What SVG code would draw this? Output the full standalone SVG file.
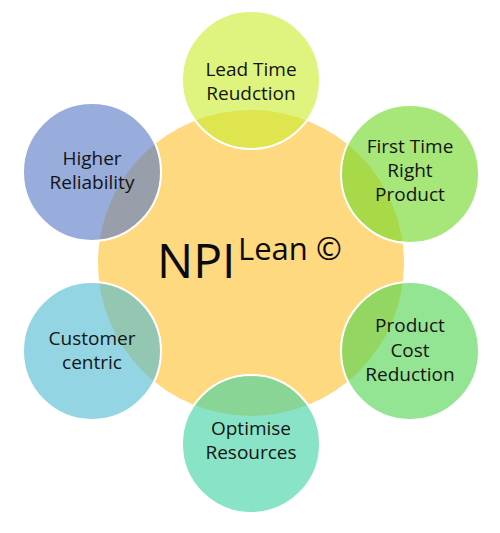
<svg xmlns="http://www.w3.org/2000/svg" width="500" height="533" viewBox="0 0 500 533">
<style>
.sat{stroke:#ffffff;stroke-width:2;fill-opacity:0.62}
.lbl{font-family:"Open Sans","Liberation Sans",sans-serif;font-size:19px;fill:#141414;text-anchor:middle}
.big{font-family:"Open Sans","Liberation Sans",sans-serif;fill:#0a0a0a}
</style>
<rect width="500" height="533" fill="#ffffff"/>
<g id="center">
<circle cx="251" cy="263" r="153" fill="#FFD97F"/>
</g>
<g id="connectors"></g>
<g id="lead-time">
<circle class="sat" cx="251" cy="80" r="69" fill="#CBEC30"/>
<text class="lbl" x="251" y="76">Lead Time</text>
<text class="lbl" x="251" y="100">Reudction</text>
</g>
<g id="first-time">
<circle class="sat" cx="410" cy="174" r="69" fill="#71D926"/>
<text class="lbl" x="410" y="153">First Time</text>
<text class="lbl" x="410" y="177">Right</text>
<text class="lbl" x="410" y="201">Product</text>
</g>
<g id="product-cost">
<circle class="sat" cx="410" cy="351" r="69" fill="#50D550"/>
<text class="lbl" x="410" y="332">Product</text>
<text class="lbl" x="410" y="357">Cost</text>
<text class="lbl" x="410" y="381">Reduction</text>
</g>
<g id="optimise">
<circle class="sat" cx="251" cy="444" r="69" fill="#40D2A4"/>
<text class="lbl" x="251" y="435">Optimise</text>
<text class="lbl" x="251" y="459">Resources</text>
</g>
<g id="customer">
<circle class="sat" cx="92" cy="351" r="69" fill="#50BCD2"/>
<text class="lbl" x="92" y="345">Customer</text>
<text class="lbl" x="92" y="369">centric</text>
</g>
<g id="reliability">
<circle class="sat" cx="92" cy="172" r="69" fill="#587BC5"/>
<text class="lbl" x="92" y="165">Higher</text>
<text class="lbl" x="92" y="189">Reliability</text>
</g>
<g id="npi-label">
<text class="big" x="157" y="278" font-size="48">NPI</text>
<text class="big" x="238" y="260" font-size="31">Lean ©</text>
</g>
</svg>
